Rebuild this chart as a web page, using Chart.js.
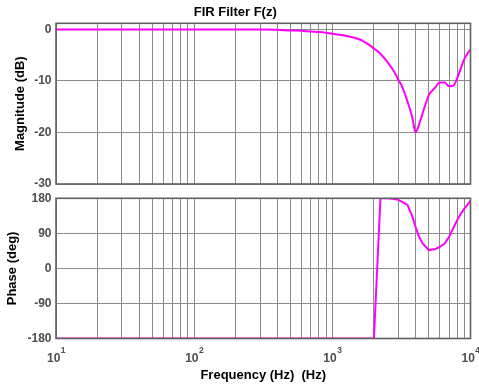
<!DOCTYPE html>
<html><head><meta charset="utf-8">
<script src="https://cdn.jsdelivr.net/npm/chart.js@4.4.1/dist/chart.umd.min.js"></script>
<style>
html,body{margin:0;padding:0;background:#fff;}
#wrap{position:relative;width:479px;height:387px;background:#fff;}
.box{position:absolute;left:0;width:479px;}
</style></head><body>
<div id="wrap">
<div class="box" style="top:0;height:190px"><canvas id="c1" width="479" height="190"></canvas></div>
<div class="box" style="top:190px;height:197px"><canvas id="c2" width="479" height="197"></canvas></div>
</div>
<script>
// ---- data ----
const freqHz = [10, 100, 200, 300, 400, 500, 600, 700, 800, 900, 1000, 1200, 1400, 1600, 1800, 2000, 2230, 2500, 2800, 3000, 3200, 3500, 3800, 4000, 4200, 4500, 5000, 5500, 6000, 6500, 7000, 7500, 8000, 8500, 9000, 9500, 10000];
const magnitudeDb = [0, 0, 0, 0, -0.05, -0.2, -0.25, -0.4, -0.5, -0.65, -0.85, -1.1, -1.5, -2.0, -2.8, -3.7, -4.7, -6.3, -8.2, -9.7, -11.1, -14.0, -17.2, -20.0, -18.8, -16.3, -12.7, -11.4, -10.3, -10.3, -11.0, -10.9, -9.5, -7.6, -5.8, -4.7, -3.9];
const phaseDeg = [-180, -180, -180, -180, -180, -180, -180, -180, -180, -180, -180, -180, -180, -180, -180, -180, 180, 180, 178, 176, 171, 163, 133, 107, 85, 64, 47, 49, 55, 64, 81, 103, 124, 140, 153, 163, 174];
const magTicks = [-30, -20, -10, 0];
const phaseTicks = [-180, -90, 0, 90, 180];
const decadeTicks = [10, 100, 1000, 10000];
const decadeExponents = ['1', '2', '3', '4'];
const chartTitle = 'FIR Filter F(z)';
const magLabel = 'Magnitude (dB)';
const phaseLabel = 'Phase (deg)';
const freqLabel = 'Frequency (Hz)  (Hz)';

// ---- helpers ----
const FONT = "'Liberation Sans', Arial, Helvetica, sans-serif";
const gridTicks = [];
for (let d = 0; d < decadeTicks.length - 1; d++) {
  for (let m = 1; m <= 9; m++) gridTicks.push(decadeTicks[d] * m);
}
gridTicks.push(decadeTicks[decadeTicks.length - 1]);

const magPoints = freqHz.map((f, i) => ({x: f, y: magnitudeDb[i]}));
const phasePoints = freqHz.map((f, i) => ({x: f, y: phaseDeg[i]}));

const framePlugin = {
  id: 'frame',
  afterDraw(chart) {
    const {ctx, chartArea: a} = chart;
    ctx.save();
    ctx.strokeStyle = '#606060';
    ctx.lineWidth = 1.6;
    ctx.strokeRect(a.left, a.top, a.right - a.left, a.bottom - a.top);
    ctx.restore();
  }
};

const decadeLabelPlugin = {
  id: 'decadeLabels',
  afterDraw(chart) {
    const {ctx} = chart;
    const xs = chart.scales.x;
    ctx.save();
    ctx.fillStyle = '#4d4d4d';
    ctx.textBaseline = 'alphabetic';
    ctx.textAlign = 'left';
    decadeTicks.forEach((v, i) => {
      const px = xs.getPixelForValue(v);
      ctx.font = 'bold 12px ' + FONT;
      const w1 = ctx.measureText('10').width;
      ctx.font = 'bold 8.5px ' + FONT;
      const w2 = ctx.measureText(decadeExponents[i]).width;
      const start = px - (w1 + w2) / 2;
      ctx.font = 'bold 12px ' + FONT;
      ctx.fillText('10', start, 171.5);
      ctx.font = 'bold 8.5px ' + FONT;
      ctx.fillText(decadeExponents[i], start + w1 + 0.5, 163.2);
    });
    ctx.restore();
  }
};

function zeroPad(scale) {
  scale.paddingTop = 0; scale.paddingBottom = 0;
  scale.paddingLeft = 0; scale.paddingRight = 0;
}

function xScale(height, withTitle) {
  return {
    type: 'logarithmic',
    min: 10, max: 10000,
    afterBuildTicks: s => { s.ticks = gridTicks.map(v => ({value: v, major: decadeTicks.includes(v)})); },
    afterFit: s => { s.height = height; zeroPad(s); },
    grid: {color: '#8a8a8a', lineWidth: 1, drawTicks: false},
    border: {display: false},
    ticks: {display: false},
    title: withTitle ? {
      display: true, text: freqLabel, color: '#000',
      font: {family: FONT, size: 13, weight: 'bold'},
      padding: {top: 0, bottom: 4.2}
    } : {display: false}
  };
}

function yScale(min, max, ticks, label, titlePad) {
  return {
    type: 'linear',
    min: min, max: max,
    afterBuildTicks: s => { s.ticks = ticks.map(v => ({value: v})); },
    afterFit: s => { s.width = 56; zeroPad(s); },
    grid: {color: '#8a8a8a', lineWidth: 1, drawTicks: false},
    border: {display: false},
    ticks: {
      color: '#4d4d4d', padding: 4.5,
      font: {family: FONT, size: 12, weight: 'bold'},
      callback: v => String(v)
    },
    title: {
      display: true, text: label, color: '#000',
      font: {family: FONT, size: 13, weight: 'bold'},
      padding: {top: titlePad, bottom: 0}
    }
  };
}

function lineDataset(points, smooth) {
  const ds = {
    data: points,
    borderColor: '#ff00ff',
    borderWidth: 2,
    pointRadius: 0,
    fill: false,
    tension: 0
  };
  if (smooth) ds.cubicInterpolationMode = 'monotone';
  return ds;
}

new Chart(document.getElementById('c1'), {
  type: 'line',
  data: {datasets: [lineDataset(magPoints, true)]},
  options: {
    responsive: false, animation: false, devicePixelRatio: 1,
    parsing: false,
    layout: {padding: {left: 0, right: 8.5, top: 0, bottom: 0}},
    plugins: {
      legend: {display: false}, tooltip: {enabled: false},
      title: {
        display: true, text: chartTitle, color: '#000',
        font: {family: FONT, size: 13, weight: 'bold'},
        padding: {top: 4.5, bottom: 3.2}
      }
    },
    scales: {
      x: xScale(6, false),
      y: yScale(-30, 1.2, magTicks, magLabel, 12.7)
    }
  },
  plugins: [framePlugin]
});

new Chart(document.getElementById('c2'), {
  type: 'line',
  data: {datasets: [lineDataset(phasePoints, false)]},
  options: {
    responsive: false, animation: false, devicePixelRatio: 1,
    parsing: false,
    layout: {padding: {left: 0, right: 8.5, top: 8.3, bottom: 0}},
    plugins: {legend: {display: false}, tooltip: {enabled: false}, title: {display: false}},
    scales: {
      x: xScale(48.5, true),
      y: yScale(-180, 180, phaseTicks, phaseLabel, 5.0)
    }
  },
  plugins: [framePlugin, decadeLabelPlugin]
});
</script>
</body></html>
